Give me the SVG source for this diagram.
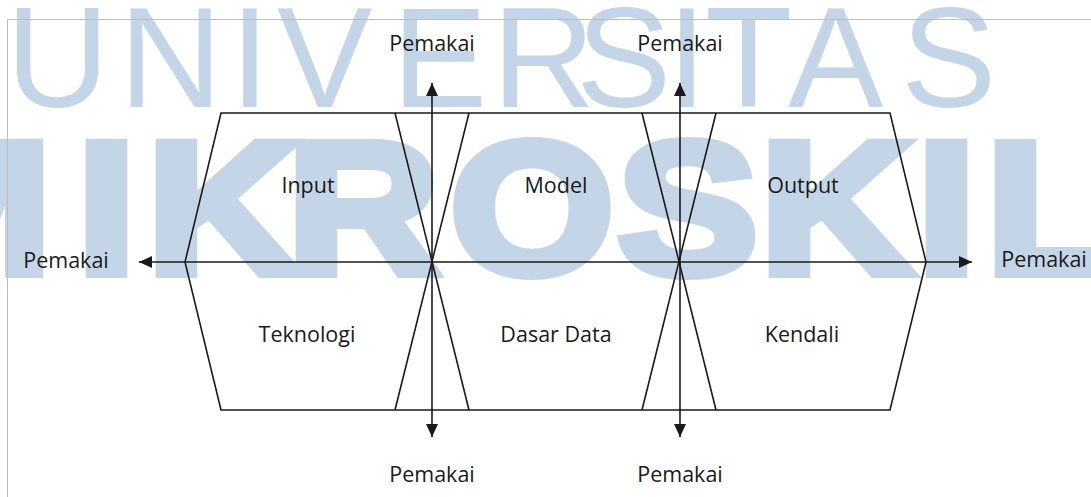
<svg xmlns="http://www.w3.org/2000/svg" width="1091" height="497" viewBox="0 0 1091 497">
  <style>
    .wm1 { font-family: "Liberation Sans", Arial, sans-serif; font-size: 143px; fill: #C4D5E8; }
    .wm2 { font-family: "Liberation Sans", Arial, sans-serif; font-size: 188px; font-weight: bold; fill: #C4D5E8; stroke: #C4D5E8; stroke-width: 10; stroke-linejoin: miter; }
    .frame { stroke: #BDBDBD; stroke-width: 1; fill: none; }
    .outline { stroke: #1A1A1A; stroke-width: 1.6; fill: none; stroke-linejoin: miter; }
    .conn { stroke: #1A1A1A; stroke-width: 1.6; fill: none; }
    .lbl { font-family: "Open Sans", "Noto Sans", "Liberation Sans", sans-serif; font-size: 21.5px; fill: #1A1A1A; text-anchor: middle; }
  </style>
  <defs>
    <marker id="arrow" viewBox="0 0 13 12" markerWidth="13" markerHeight="12" refX="13" refY="6" markerUnits="userSpaceOnUse" orient="auto-start-reverse">
      <path d="M0,0 L13,6 L0,12 z" fill="#1A1A1A"/>
    </marker>
  </defs>
  <rect width="1091" height="497" fill="#FFFFFF"/>
  <g id="watermark">
    <text class="wm1" x="6 119 230 277 392 492 576 667 705 788 901" y="107">UNIVERSITAS</text>
    <text class="wm2" transform="scale(1.12,1)" x="-110.4 69.0 131.5 256.5 402.0 551.3 678.8 819.0 880.6" y="273">MIKROSKIL</text>
  </g>
  <g id="frame">
    <path class="frame" d="M7.5,497 L7.5,19.5 L1091,19.5"/>
  </g>
  <g id="shape">
    <path class="outline" d="M221,113 L890,113 L926,262 L890,410 L221,410 L185,262 Z"/>
    <path class="outline" d="M395,113 L469,410 M469,113 L395,410"/>
    <path class="outline" d="M642,113 L716,410 M716,113 L642,410"/>
  </g>
  <g id="connectors">
    <line class="conn" x1="432" y1="262" x2="432" y2="83" marker-end="url(#arrow)"/>
    <line class="conn" x1="432" y1="262" x2="432" y2="437" marker-end="url(#arrow)"/>
    <line class="conn" x1="680" y1="262" x2="680" y2="83" marker-end="url(#arrow)"/>
    <line class="conn" x1="680" y1="262" x2="680" y2="437" marker-end="url(#arrow)"/>
    <line class="conn" x1="185" y1="262" x2="139" y2="262" marker-end="url(#arrow)"/>
    <line class="conn" x1="185" y1="262" x2="972" y2="262" marker-end="url(#arrow)"/>
  </g>
  <g id="node-input"><text class="lbl" x="308" y="193">Input</text></g>
  <g id="node-model"><text class="lbl" x="556" y="193">Model</text></g>
  <g id="node-output"><text class="lbl" x="803" y="193">Output</text></g>
  <g id="node-teknologi"><text class="lbl" x="307" y="342">Teknologi</text></g>
  <g id="node-dasar-data"><text class="lbl" x="556" y="342">Dasar Data</text></g>
  <g id="node-kendali"><text class="lbl" x="802" y="342">Kendali</text></g>
  <g id="user-top-1"><text class="lbl" x="432" y="51">Pemakai</text></g>
  <g id="user-top-2"><text class="lbl" x="680" y="51">Pemakai</text></g>
  <g id="user-bottom-1"><text class="lbl" x="432" y="482">Pemakai</text></g>
  <g id="user-bottom-2"><text class="lbl" x="680" y="482">Pemakai</text></g>
  <g id="user-left"><text class="lbl" x="66" y="268">Pemakai</text></g>
  <g id="user-right"><text class="lbl" x="1044" y="267">Pemakai</text></g>
</svg>
